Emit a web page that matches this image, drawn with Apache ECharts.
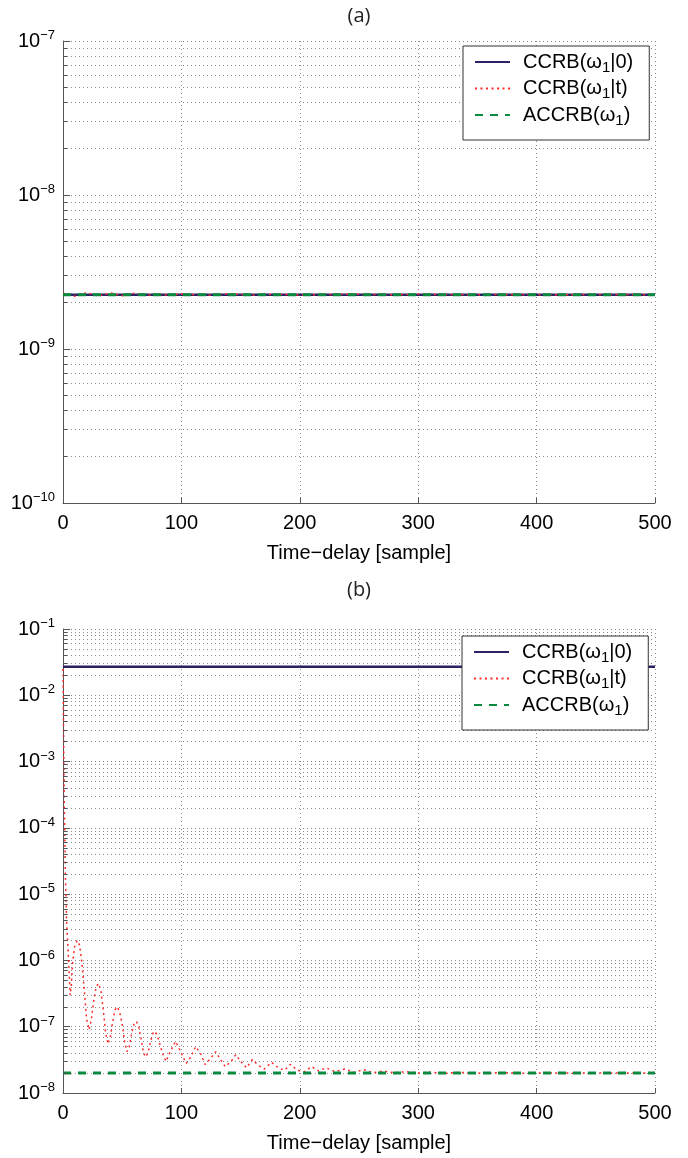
<!DOCTYPE html>
<html><head><meta charset="utf-8">
<script src="https://cdn.jsdelivr.net/npm/echarts@6/dist/echarts.min.js"></script>
<style>html,body{margin:0;padding:0;background:#fff}#c{width:688px;height:1158px}</style>
</head><body><div id="c"></div>
<script>
// ---------- data ----------
const xTicks = [0, 100, 200, 300, 400, 500];
const seriesNames = ['CCRB(ω1|0)', 'CCRB(ω1|t)', 'ACCRB(ω1)'];
const xTitle = 'Time\u2212delay [sample]';
const panelTitles = ['(a)', '(b)'];

// Panel (a)
const aRange = [1e-10, 1e-7];
const aCCRB0 = [[0, 2.25e-9], [500, 2.25e-9]];
const aCCRBt = [[0,2.30e-9],[10,2.20e-9],[20,2.32e-9],[30,2.21e-9],[40,2.31e-9],[50,2.22e-9],[60,2.30e-9],[70,2.22e-9],[80,2.29e-9],[90,2.23e-9],[100,2.28e-9],[120,2.23e-9],[140,2.28e-9],[160,2.24e-9],[180,2.27e-9],[200,2.24e-9],[240,2.27e-9],[280,2.25e-9],[300,2.27e-9],[340,2.25e-9],[380,2.26e-9],[420,2.25e-9],[460,2.26e-9],[500,2.25e-9]];
const aACCRB = [[0, 2.25e-9], [500, 2.25e-9]];

// Panel (b)
const bRange = [1e-8, 1e-1];
const bCCRB0 = [[0, 2.7e-2], [500, 2.7e-2]];
const bCCRBt = [[0,2.5e-2],[1,3e-4],[2,2e-5],[3,4e-6],[4,1.8e-6],[5,8e-7],[6,3e-7],[7,4e-7],[8,9e-7],[10,1.7e-6],[12,2e-6],[14,1.7e-6],[16,9e-7],[18,3.5e-7],[20,1.3e-7],[22,9e-8],[24,1.3e-7],[26,2.5e-7],[28,4e-7],[30,4.5e-7],[32,3.5e-7],[34,1.8e-7],[36,8e-8],[38,5.5e-8],[40,7e-8],[42,1.2e-7],[44,1.8e-7],[46,2e-7],[48,1.6e-7],[50,1.1e-7],[52,6e-8],[54,4.2e-8],[56,5e-8],[58,8e-8],[60,1.1e-7],[62,1.2e-7],[64,1e-7],[66,6.5e-8],[68,4e-8],[70,3.5e-8],[72,4.2e-8],[74,6e-8],[76,8e-8],[78,8.5e-8],[80,7e-8],[84,4e-8],[87,3e-8],[90,4e-8],[95,6e-8],[100,4e-8],[104,2.8e-8],[108,3.5e-8],[112,5e-8],[116,4e-8],[120,2.7e-8],[125,3.4e-8],[129,4.2e-8],[133,3.2e-8],[137,2.5e-8],[142,3e-8],[146,3.8e-8],[150,3e-8],[155,2.4e-8],[160,3.2e-8],[165,2.6e-8],[170,2.3e-8],[176,2.9e-8],[182,2.4e-8],[187,2.2e-8],[192,2.7e-8],[198,2.2e-8],[204,2.1e-8],[210,2.5e-8],[216,2.15e-8],[222,2.4e-8],[230,2.1e-8],[238,2.3e-8],[246,2.05e-8],[254,2.25e-8],[262,2.02e-8],[270,2.15e-8],[280,2.02e-8],[290,2.1e-8],[300,2.0e-8],[310,2.06e-8],[320,1.98e-8],[335,2.05e-8],[350,1.99e-8],[370,2.03e-8],[390,1.99e-8],[410,2.02e-8],[430,1.99e-8],[460,2.01e-8],[500,2.0e-8]];
const bACCRB = [[0, 2.0e-8], [500, 2.0e-8]];

const minorMultipliers = [2, 3, 4, 5, 6, 7, 8, 9];

// ---------- styles ----------
const FONT = '"Liberation Sans", Arial, Helvetica, sans-serif';
const BLUE = '#2a2266', RED = '#ff2a2a', GREEN = '#0a8a3e';
const GRID_C = '#8a8a8a', AXIS_C = '#555';
const MINOR_TICK_LEN = 3.5; // in x-axis units (~4px)

function minorValues(range) {
  const out = [];
  const e0 = Math.round(Math.log10(range[0])), e1 = Math.round(Math.log10(range[1]));
  for (let e = e0; e < e1; e++) for (const m of minorMultipliers) out.push(m * Math.pow(10, e));
  return out;
}

const legendFmt = {
  'CCRB(ω1|0)': '{g|}{n|CCRB(ω}{s|1}{n||0)}',
  'CCRB(ω1|t)': '{g|}{n|CCRB(ω}{s|1}{n||t)}',
  'ACCRB(ω1)': '{g|}{n|ACCRB(ω}{s|1}{n|)}'
};

function makeLegend(left, top) {
  return {
    orient: 'vertical', left: left, top: top, data: seriesNames,
    backgroundColor: '#fff', borderColor: '#333', borderWidth: 1, borderRadius: 0,
    padding: [6, 16, 12, 11], itemWidth: 35, itemHeight: 14, itemGap: 3.5,
    selectedMode: false,
    itemStyle: { opacity: 0 },
    formatter: n => legendFmt[n],
    textStyle: {
      fontFamily: FONT, color: '#000',
      rich: {
        g: { width: 8 },
        n: { fontSize: 20, lineHeight: 26, fontFamily: FONT, color: '#000', verticalAlign: 'middle' },
        s: { fontSize: 15, lineHeight: 4, fontFamily: FONT, color: '#000', verticalAlign: 'bottom' }
      }
    }
  };
}

function makeX(gi) {
  return {
    gridIndex: gi, type: 'value', min: xTicks[0], max: xTicks[xTicks.length - 1], interval: 100,
    axisLine: { show: true, lineStyle: { color: AXIS_C, width: 1 } },
    axisTick: { show: true, inside: true, length: 5, lineStyle: { color: AXIS_C } },
    axisLabel: { fontSize: 20, color: '#000', fontFamily: FONT, margin: 10 },
    splitLine: { show: true, lineStyle: { type: [1, 3], color: GRID_C, width: 1 } },
    name: xTitle, nameLocation: 'middle', nameGap: 40,
    nameTextStyle: { fontSize: 20, color: '#000', fontFamily: FONT }
  };
}

function makeY(gi, range) {
  return {
    gridIndex: gi, type: 'log', logBase: 10, min: range[0], max: range[1],
    axisLine: { show: true, onZero: false, lineStyle: { color: AXIS_C, width: 1 } },
    axisTick: { show: true, inside: true, length: 7, lineStyle: { color: AXIS_C } },
    axisLabel: {
      margin: 8, color: '#000', fontFamily: FONT,
      formatter: v => '{b|10}{s|\u2212' + (-Math.round(Math.log10(v))) + '}',
      rich: {
        b: { fontSize: 20, lineHeight: 24, fontFamily: FONT, color: '#000', verticalAlign: 'middle' },
        s: { fontSize: 13, lineHeight: 12, fontFamily: FONT, color: '#000', verticalAlign: 'top' }
      }
    },
    splitLine: { show: true, lineStyle: { type: [1, 3], color: GRID_C, width: 1 } }
  };
}

function panelSeries(gi, range, c0, ct, ca) {
  const mv = minorValues(range);
  return [
    { name: 'minor-grid-' + gi, type: 'lines', coordinateSystem: 'cartesian2d', xAxisIndex: gi, yAxisIndex: gi,
      silent: true, z: 1,
      lineStyle: { type: [1, 3], color: GRID_C, width: 1, opacity: 1, curveness: 0 },
      data: mv.map(v => ({ coords: [[xTicks[0], v], [xTicks[xTicks.length - 1], v]] })) },
    { name: 'minor-tick-' + gi, type: 'lines', coordinateSystem: 'cartesian2d', xAxisIndex: gi, yAxisIndex: gi,
      silent: true, z: 6,
      lineStyle: { type: 'solid', color: AXIS_C, width: 1, opacity: 1, curveness: 0 },
      data: mv.map(v => ({ coords: [[xTicks[0], v], [xTicks[0] + MINOR_TICK_LEN, v]] })) },
    { name: seriesNames[0], type: 'line', xAxisIndex: gi, yAxisIndex: gi, data: c0, showSymbol: false, symbol: 'none', z: 3,
      lineStyle: { color: BLUE, width: 2.5 }, itemStyle: { color: BLUE } },
    { name: seriesNames[1], type: 'line', xAxisIndex: gi, yAxisIndex: gi, data: ct, showSymbol: false, symbol: 'none', z: 4,
      lineStyle: { color: RED, width: 1.5, type: [2, 3.5] }, itemStyle: { color: RED } },
    { name: seriesNames[2], type: 'line', xAxisIndex: gi, yAxisIndex: gi, data: ca, showSymbol: false, symbol: 'none', z: 5,
      lineStyle: { color: GREEN, width: 3, type: [8, 7] }, itemStyle: { color: GREEN } }
  ];
}

const chart = echarts.init(document.getElementById('c'), null, { renderer: 'canvas' });
chart.setOption({
  animation: false,
  backgroundColor: '#fff',
  grid: [
    { left: 63, top: 41, width: 592, height: 462 },
    { left: 63, top: 629, width: 592, height: 464 }
  ],
  xAxis: [makeX(0), makeX(1)],
  yAxis: [makeY(0, aRange), makeY(1, bRange)],
  legend: [makeLegend(463, 46), makeLegend(462, 636)],
  graphic: [
    { type: 'text', x: 359, y: 16, style: { text: panelTitles[0], fontSize: 20, fontFamily: '"Open Sans", "Noto Sans", sans-serif', fill: '#222', align: 'center', verticalAlign: 'middle' } },
    { type: 'text', x: 359, y: 590, style: { text: panelTitles[1], fontSize: 20, fontFamily: '"Open Sans", "Noto Sans", sans-serif', fill: '#222', align: 'center', verticalAlign: 'middle' } }
  ],
  series: [].concat(
    panelSeries(0, aRange, aCCRB0, aCCRBt, aACCRB),
    panelSeries(1, bRange, bCCRB0, bCCRBt, bACCRB)
  )
});
</script>
</body></html>
